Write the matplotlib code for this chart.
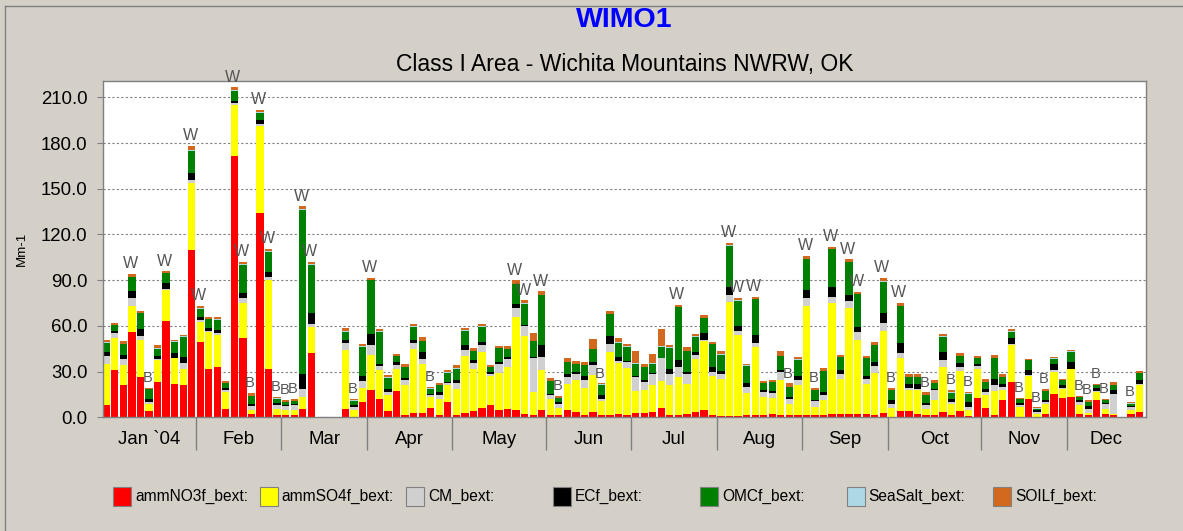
import numpy as np
import matplotlib
matplotlib.use('Agg')
import matplotlib.pyplot as plt
from matplotlib.patches import Rectangle
from matplotlib.lines import Line2D

plt.rcParams['font.family'] = ['Liberation Sans', 'DejaVu Sans']

# Daily light extinction (Mm-1) per species, one sample every third day of 2004
# None = no sample
nitrate = [8, 31, 21, 56, 26.5, 4, 23, 63.4, 22, 21,
           110, 49.6, 32, 33, 5.7, 171.7, 51.8, 2.4, 134.4, 32,
           1.3, 1.8, 1.3, 5.7, 42, None, None, None, 5.7, 0.5,
           10, 18, 12.3, 4.2, 17, 1.3, 3, 3, 6, 1.3,
           10, 1.3, 3, 4, 6, 8, 4.6, 5.3, 4.6, 2.4,
           1.8, 4.6, 1.8, 1.3, 4.6, 3.5, 1.3, 3.5, 1.3, 1.8,
           2.4, 1.8, 2.9, 2.9, 3.5, 6.4, 1.8, 1.3, 2.4, 3.5,
           4.6, 1.3, 0.7, 0.7, 0.7, 1.3, 1.3, 1.3, 2.4, 1.3,
           1.3, 1.3, 1.3, 1.3, 1.3, 2.4, 2.4, 2.4, 2.4, 2.4,
           1.3, 2.9, 0.5, 3.9, 3.9, 2.4, 1.3, 1.3, 3.5, 1.8,
           3.9, 0.7, 12.9, 6.4, 1.3, 11.2, 23.2, 0.5, 12.3, 0.3,
           2.4, 15, 12.9, 13.4, 2.4, 1.3, 11.2, 2.4, 1.3, None,
           2.4, 3.5]
sulfate = [27, 21, 13, 17, 24.5, 5, 14.5, 20, 16.6, 11,
           44, 13, 24, 21, 11, 33, 23, 2.2, 56.6, 58,
           4.4, 2.8, 3.3, 7.7, 17.5, None, None, None, 38.4, 4.4,
           9, 22.6, 18.7, 10.3, 15, 19.7, 42, 32, 7.3, 11,
           11, 17.6, 37, 28, 37, 19, 24.6, 27.4, 61, 51,
           15, 26.3, 10.5, 5.1, 17.5, 20.8, 18.2, 24.5, 9.2, 41.2,
           33, 30.7, 14.4, 15.3, 17.5, 17.5, 19.2, 25.2, 19.7, 34.7,
           45.4, 25.9, 24.7, 75.2, 53.3, 14.7, 45, 12, 10, 23.5,
           7.3, 19.7, 71.7, 5.5, 10.3, 72.4, 23, 69.5, 48.6, 19.7,
           27.9, 53.9, 5.9, 35.1, 14.3, 15.8, 4.4, 9.9, 29.6, 6.8,
           26.4, 3.9, 19.1, 8.5, 15.8, 7, 24.2, 6.5, 14.7, 2,
           6.2, 14.7, 6, 18, 5.5, 1.5, 5.5, 3.3, 1.1, None,
           2.2, 17.5]
coarse = [5, 3, 4, 5.5, 2.3, 0.8, 1, 1, 0.5, 3.7,
          1.5, 1, 0.7, 1, 1, 1.3, 3.3, 2.6, 1.8, 1.9,
          2.2, 2.6, 3.3, 5.5, 1.5, None, None, None, 4.4, 2,
          4.8, 7, 2.6, 2.2, 2.2, 3.8, 3.7, 3.3, 1.1, 2.2,
          1.6, 3.7, 4.4, 3.7, 4.4, 1.5, 5.5, 5.3, 5.9, 6.6,
          22.3, 8.7, 2.2, 2.6, 4.4, 4, 4.8, 6.6, 1.8, 4.8,
          1.5, 3.5, 9.2, 5, 7.7, 14.7, 7.7, 6.6, 6.2, 3,
          1, 2.6, 3.3, 4.4, 2.8, 4, 2.6, 3.3, 3.7, 5,
          3.7, 3.3, 5, 3.7, 3.3, 4.4, 3.3, 4.6, 4.7, 2.9,
          4.6, 4.8, 2.6, 2.9, 1.3, 0.7, 2.2, 6.6, 4.4, 1.5,
          2.8, 2.2, 1.6, 1.8, 3.9, 1.5, 1, 1, 0.7, 1,
          1.3, 1.2, 0.5, 0.5, 2.2, 2.9, 0.5, 2.9, 13.2, None,
          2.2, 1]
elem_carbon = [3, 1.5, 3, 4.5, 4.4, 2.5, 1.5, 3.5, 3, 4,
               5, 2.3, 1.6, 2, 1.8, 1.5, 3.3, 1.8, 2.6, 3.7,
               1.5, 0.7, 0.7, 9.8, 7.2, None, None, None, 2.2, 1,
               3.3, 6.8, 1.3, 2.2, 2.2, 1.3, 1.8, 4.4, 1, 2.2,
               0.7, 1.7, 2.9, 1.8, 2.2, 1.5, 1.8, 1.3, 2.8, 0.7,
               0.7, 8.1, 1.1, 1, 1.8, 1.5, 2.9, 1.8, 2.2, 5.7,
               2.8, 1, 0.5, 1.1, 0.5, 0.5, 2.7, 4.4, 1.5, 1.8,
               4.5, 3.3, 2, 5.4, 3.1, 2.8, 5.1, 1, 1, 1.5,
               1, 2.7, 5.6, 1.1, 1.8, 6.1, 2.2, 3.8, 3.7, 2,
               2.6, 6.6, 2.2, 6.6, 2.6, 3.2, 1.5, 1, 5.5, 2.2,
               2.6, 3.3, 1.3, 2.2, 4.4, 2, 3.4, 1.3, 3.2, 1.3,
               1.7, 4, 1.7, 4.5, 1.5, 1.5, 2.3, 0.9, 2.2, None,
               0.5, 2.3]
organic = [6, 4, 7, 9, 10.5, 6.4, 5, 6.5, 7.6, 13,
           14.5, 5.5, 6, 7, 3, 6.5, 18.6, 4.8, 4.4, 13.2,
           2.9, 2.2, 2.1, 107.5, 31.8, None, None, None, 5.5, 3,
           19.3, 35.5, 21.2, 7.2, 3.7, 6.6, 8.8, 7.2, 3.5, 4.3,
           6, 7.7, 9.4, 6.1, 9.8, 3, 8.8, 5.4, 13.2, 13.7,
           10.3, 32.5, 8.3, 2.7, 7.7, 5, 7, 8.3, 7, 14,
           9.3, 9.3, 8.3, 8.8, 6, 7.2, 14.4, 34.6, 13.8, 9.9,
           9.4, 14.7, 10.5, 27, 16.6, 11, 23.4, 5, 5.9, 8.8,
           6.7, 10.9, 20.1, 6.2, 13.8, 25, 8.4, 21.5, 21.3, 11.6,
           11, 20.8, 6.6, 24.5, 4.4, 4.4, 5.1, 3.8, 9.9, 3.9,
           4.4, 5.5, 3.7, 4.3, 13.6, 4.8, 4.3, 2.5, 6.6, 1.1,
           5.7, 3.5, 3.3, 6.6, 1.8, 2.8, 1.5, 1.7, 3.2, None,
           1.7, 4.8]
sea_salt = [0.4, 0.3, 0.4, 0.4, 0.3, 0.2, 0.3, 0.3, 0.3, 0.4,
            0.5, 0.3, 0.3, 0.3, 0.2, 0.5, 0.4, 0.2, 0.4, 0.4,
            0.2, 0.2, 0.2, 0.4, 0.4, None, None, None, 0.3, 0.2,
            0.3, 0.3, 0.3, 0.2, 0.2, 0.2, 0.3, 0.3, 0.2, 0.2,
            0.2, 0.2, 0.3, 0.2, 0.3, 0.2, 0.2, 0.2, 0.3, 0.3,
            0.3, 0.3, 0.2, 0.2, 0.2, 0.2, 0.2, 0.3, 0.2, 0.3,
            0.3, 0.2, 0.2, 0.2, 0.2, 0.3, 0.2, 0.3, 0.2, 0.2,
            0.2, 0.2, 0.2, 0.3, 0.3, 0.2, 0.3, 0.2, 0.2, 0.2,
            0.2, 0.2, 0.3, 0.2, 0.2, 0.3, 0.2, 0.3, 0.3, 0.2,
            0.2, 0.3, 0.2, 0.3, 0.2, 0.2, 0.2, 0.2, 0.2, 0.2,
            0.2, 0.2, 0.3, 0.2, 0.2, 0.2, 0.3, 0.2, 0.2, 0.1,
            0.2, 0.3, 0.2, 0.3, 0.2, 0.2, 0.2, 0.2, 0.2, None,
            0.2, 0.3]
soil = [1.5, 1, 1.5, 1.7, 1.5, 0.6, 2, 1, 1, 1,
        2.5, 1.5, 1.3, 1.5, 1, 2, 1.5, 1.8, 1.7, 1.5,
        1.1, 1.1, 1.2, 1.8, 1.5, None, None, None, 2.2, 1,
        1.5, 1.1, 1.6, 1.5, 1.3, 2, 1.8, 2.2, 1.1, 1.6,
        1.8, 1.8, 1.5, 1.6, 1.8, 1, 1.1, 2, 2, 2,
        4.6, 2.2, 2, 1.3, 3, 2, 1.8, 6.3, 0.6, 2.2,
        2.8, 1.5, 8.3, 1.5, 6, 11.4, 1.6, 1.4, 2.2, 1.7,
        1.8, 1.1, 1.8, 1.6, 1.5, 1.1, 1.3, 1.1, 1.6, 2.9,
        2.1, 1.8, 1.8, 1.1, 1.5, 1.1, 1.1, 1.5, 1.3, 1.5,
        1.5, 2.2, 1.1, 1.8, 1.5, 1.5, 1.7, 1.7, 1.7, 1.6,
        1.8, 1.1, 1.5, 1.8, 1.8, 1.5, 1.6, 0.7, 0.7, 0.7,
        0.9, 1, 0.7, 1.1, 0.6, 1.2, 0.7, 0.6, 1.8, None,
        1.1, 1.3]

# Data flags shown above bars
flags = ['', '', '', 'W', '', 'B', '', 'W', '', '',
         'W', 'W', '', '', '', 'W', 'W', 'B', 'W', 'W',
         'B', 'B', 'B', 'W', 'W', '', '', '', '', 'B',
         '', 'W', '', '', '', '', '', '', 'B', '',
         '', '', '', '', '', '', '', '', 'W', 'W',
         '', 'W', '', 'B', '', '', '', '', 'B', '',
         '', '', '', '', '', '', '', 'W', '', '',
         '', '', '', 'W', 'W', '', 'W', '', '', '',
         'B', '', 'W', 'B', '', 'W', '', 'W', 'W', '',
         '', 'W', 'B', 'W', '', '', 'B', '', '', 'B',
         '', 'B', '', '', '', '', '', 'B', '', 'B',
         'B', '', '', '', 'B', 'B', 'B', 'B', '', '',
         'B', '']

species = ['ammNO3f_bext:', 'ammSO4f_bext:', 'CM_bext:', 'ECf_bext:',
           'OMCf_bext:', 'SeaSalt_bext:', 'SOILf_bext:']
colors = ['#ff0000', '#ffff00', '#d0d0d0', '#000000', '#008000', '#add8e6', '#d2691e']

# month labels and index of the first sample shown in each month band
month_labels = ['Jan `04', 'Feb', 'Mar', 'Apr', 'May', 'Jun',
                'Jul', 'Aug', 'Sep', 'Oct', 'Nov', 'Dec']
month_start = [0, 11, 21, 31, 41, 52, 62, 72, 82, 92, 103, 113]

W, H = 1183, 531
fig = plt.figure(figsize=(W / 100, H / 100), dpi=100, facecolor='#d4d0c8')
ax = fig.add_axes([102.7 / W, 1 - 417.3 / H, (1146 - 102.7) / W, (417.3 - 81) / H])
ax.set_facecolor('white')

# Stacked bars
series = [nitrate, sulfate, coarse, elem_carbon, organic, sea_salt, soil]
idx = np.arange(len(nitrate))
present = np.array([v is not None for v in nitrate])
bottom = np.zeros(len(idx))
for vals, col in zip(series, colors):
    arr = np.array([0.0 if v is None else v for v in vals])
    ax.bar(idx[present], arr[present], width=0.85, bottom=bottom[present],
           color=col, linewidth=0, zorder=2)
    bottom = bottom + arr

# Flags above bars
for i, f in enumerate(flags):
    if f and present[i]:
        ax.annotate(f, (i, bottom[i]), xytext=(-1, 2), textcoords='offset points',
                    ha='center', va='bottom', fontsize=11.5 if f == 'W' else 10.5,
                    color='#555555', zorder=3)

# Y axis
ax.set_ylim(0, 220.7)
ax.set_yticks(np.arange(0, 211, 30))
ax.set_yticklabels(['%.1f' % v for v in np.arange(0, 211, 30)])
ax.yaxis.grid(True, linestyle=(0, (2, 2)), color='#808080', linewidth=0.8)
ax.set_axisbelow(True)
ax.tick_params(axis='y', length=4.3, width=0.8, color='#808080', pad=6.5, labelsize=13.4)
ax.set_ylabel('Mm-1', fontsize=9.6)
ax.yaxis.set_label_coords(-0.072, 0.5)

# X axis: month bands with separators
xmin, xmax = -0.42, 121.77
ax.set_xlim(xmin, xmax)
bounds = [s - 0.5 for s in month_start[1:]]
edges = [xmin] + bounds + [xmax]
centers = [(a + b) / 2 for a, b in zip(edges[:-1], edges[1:])]
ax.set_xticks(bounds)
ax.set_xticklabels([])
ax.set_xticks(centers, labels=month_labels, minor=True)
ax.tick_params(axis='x', which='major', length=23.5, width=1, color='#808080')
ax.tick_params(axis='x', which='minor', length=0, pad=10, labelsize=13.4)

for sp in ax.spines.values():
    sp.set_color('#808080')
    sp.set_linewidth(1)

# Titles
cx = (102.7 + 1146) / 2 / W
fig.text(cx, 1 - 20 / H, 'WIMO1', ha='center', va='center', fontsize=20.5,
         fontweight='bold', color='#0000ff')
fig.text(cx, 1 - 64 / H, 'Class I Area - Wichita Mountains NWRW, OK',
         ha='center', va='center', fontsize=16.5, color='#000000')

# Outer frame (top and left edges visible)
fig.add_artist(Line2D([4.5 / W, 4.5 / W], [0, 1 - 5.5 / H], transform=fig.transFigure,
                      color='#808080', lw=1))
fig.add_artist(Line2D([4.5 / W, 1], [1 - 5.5 / H, 1 - 5.5 / H], transform=fig.transFigure,
                      color='#808080', lw=1))

# Legend row
for k, (name, col) in enumerate(zip(species, colors)):
    x0 = 113 + 146.7 * k
    fig.add_artist(Rectangle((x0 / W, 1 - 506 / H), 18 / W, 19 / H,
                             transform=fig.transFigure, facecolor=col,
                             edgecolor='#808080', lw=0.8))
    fig.text((x0 + 22) / W, 1 - 496.5 / H, name, va='center', ha='left', fontsize=11.2)

fig.savefig('out.png', dpi=100, facecolor=fig.get_facecolor())
